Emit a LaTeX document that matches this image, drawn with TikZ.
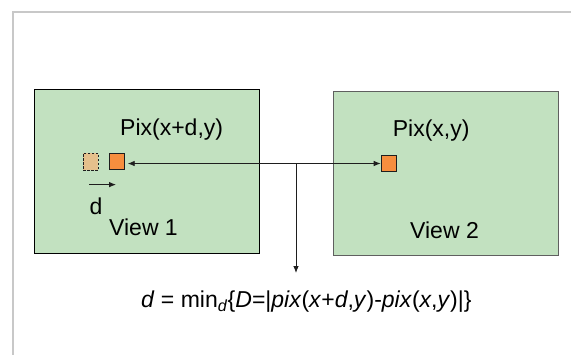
\documentclass[tikz,border=0pt]{standalone}
\usepackage{fontspec}
\setmainfont{Liberation Sans}
\usetikzlibrary{arrows.meta}
\definecolor{viewgreen}{RGB}{194,225,192}
\definecolor{pixorange}{RGB}{246,142,62}
\definecolor{pixtan}{RGB}{229,192,140}
\definecolor{framegray}{RGB}{200,200,200}
\definecolor{linegray}{RGB}{30,30,30}
\definecolor{v2border}{RGB}{95,95,95}
\tikzset{
  viewbox/.style={draw=#1, line width=1pt, fill=viewgreen, minimum width=225pt, minimum height=164pt, inner sep=0pt},
  pixsq/.style={draw=linegray, line width=0.8pt, fill=pixorange, minimum width=15pt, minimum height=16pt, inner sep=0pt},
  ghostsq/.style={draw=linegray, dashed, dash pattern=on 2.5pt off 1.5pt, line width=0.8pt, fill=pixtan, minimum width=15pt, minimum height=17pt, inner sep=0pt},
  lbl/.style={font=\fontsize{23}{27}\selectfont, inner sep=0pt, text=black},
  conn/.style={draw=linegray, line width=0.8pt},
  tip/.style={-{Latex[length=7pt,width=5.5pt]}},
}
\begin{document}
\begin{tikzpicture}[x=1pt,y=-1pt]
\useasboundingbox (0,0) rectangle (571,354);
\fill[white] (0,0) rectangle (571,354);
% outer frame
\draw[framegray, line width=2pt] (12.5,360) -- (12.5,11.5) -- (575,11.5);
% views
\node[viewbox=black, anchor=north west] (v1) at (33.5,88.9) {};
\node[viewbox=v2border, anchor=north west] (v2) at (332.5,90.7) {};
% labels
\node[lbl, anchor=west] (p1) at (120,129.5) {Pix(x+d,y)};
\node[lbl, anchor=west] (p2) at (392.6,130.5) {Pix(x,y)};
\node[lbl, anchor=west] (vl1) at (109,227.6) {View 1};
\node[lbl, anchor=west] (vl2) at (410,230.5) {View 2};
\node[lbl, anchor=west] (dl) at (89.5,205.8) {d};
% squares
\node[ghostsq] (g1) at (90.8,161.7) {};
\node[pixsq] (s1) at (116.8,161.4) {};
\node[pixsq] (s2) at (388.6,163.2) {};
% connectors
\coordinate (j) at (296,163.5);
\coordinate (jend) at (296,273);
\draw[conn, {Latex[length=7pt,width=5.5pt]}-{Latex[length=7pt,width=5.5pt]}, shorten <=3pt] (s1.east |- j) -- (s2.west |- j);
\draw[conn, tip] (j) -- (jend);
\coordinate (da) at (89,184.6);
\coordinate (db) at (116,184.6);
\draw[conn, tip] (da) -- (db);
% formula
\node[lbl, anchor=west] (f) at (141,301.5) {\textit{d} = min\textsubscript{\textit{d}}\{\textit{D}=|\textit{pix}(\textit{x}+\textit{d},\textit{y})-\textit{pix}(\textit{x},\textit{y})|\}};
\end{tikzpicture}
\end{document}
